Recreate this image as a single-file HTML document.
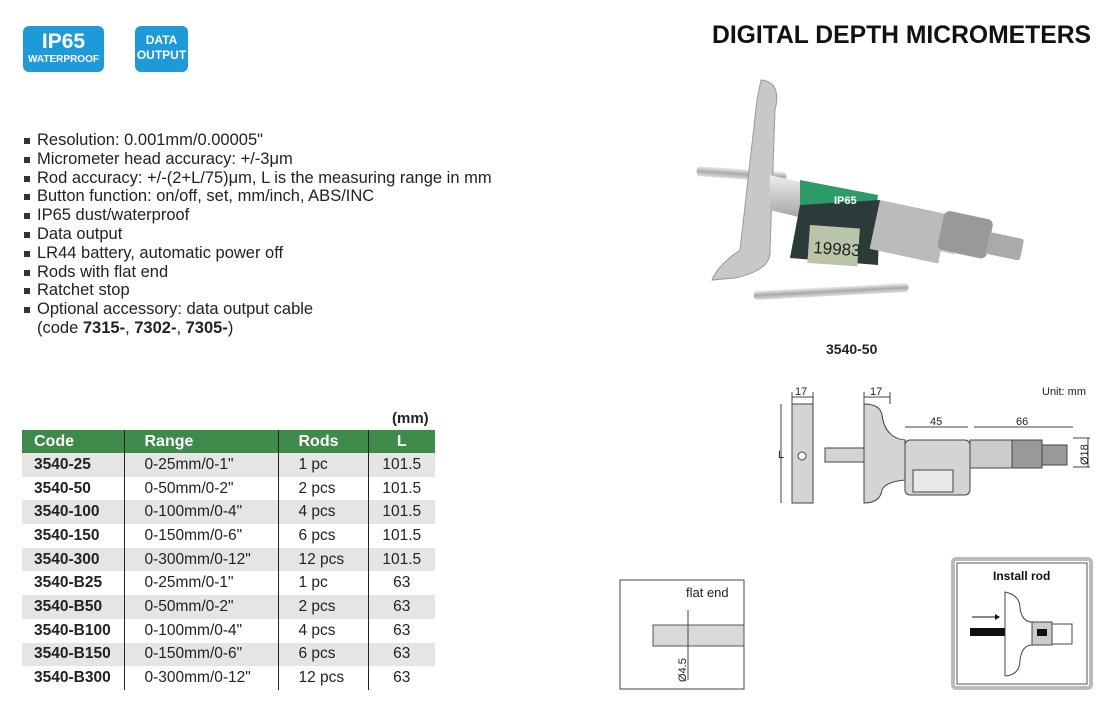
<!DOCTYPE html>
<html><head><meta charset="utf-8"><style>
body{margin:0;width:1115px;height:723px;background:#fff;position:relative;overflow:hidden;font-family:"Liberation Sans",Arial,sans-serif;color:#222}
.abs{position:absolute}
.badge{position:absolute;background:#1f9ad8;border-radius:6px;color:#fff;font-weight:bold;text-align:center}
ul{position:absolute;left:22px;top:131px;margin:0;padding:0;list-style:none;font-size:16.5px;line-height:18.8px}
ul li{padding-left:15px;position:relative}
ul li:before{content:"";position:absolute;left:2px;top:7px;width:6px;height:6px;background:#333}
table{position:absolute;left:22px;top:430px;border-collapse:collapse;font-size:15.5px;table-layout:fixed;width:413px}
td{height:23.7px;padding:0 0 0 12px;line-height:20px;overflow:hidden;white-space:nowrap}
tr.h td{background:#3d8a4b;color:#fff;font-weight:bold;font-size:16px;height:23px}
tr.g td{background:#e5e5e5}
td.c1{font-weight:bold;border-right:1.5px solid #222}
td.c2{border-right:1.5px solid #222;padding-left:20px}
td.c3{border-right:1.5px solid #222;padding-left:20px}
td.c4{text-align:center;padding:0}
</style></head><body>
<div class="badge" style="left:23px;top:26px;width:81px;height:46px"><div style="font-size:21px;line-height:24px;margin-top:4px">IP65</div><div style="font-size:10px;line-height:12px">WATERPROOF</div></div>
<div class="badge" style="left:135px;top:26px;width:53px;height:46px;font-size:12px;line-height:15px;padding-top:7px;box-sizing:border-box">DATA<br>OUTPUT</div>
<div class="abs" style="right:24px;top:22px;font-size:24.7px;font-weight:bold;color:#111">DIGITAL DEPTH MICROMETERS</div>
<ul>
<li>Resolution: 0.001mm/0.00005"</li>
<li>Micrometer head accuracy: +/-3μm</li>
<li>Rod accuracy: +/-(2+L/75)μm, L is the measuring range in mm</li>
<li>Button function: on/off, set, mm/inch, ABS/INC</li>
<li>IP65 dust/waterproof</li>
<li>Data output</li>
<li>LR44 battery, automatic power off</li>
<li>Rods with flat end</li>
<li>Ratchet stop</li>
<li>Optional accessory: data output cable<br>(code <b>7315-</b>, <b>7302-</b>, <b>7305-</b>)</li>
</ul>
<div class="abs" style="left:392px;top:410px;font-size:15px;font-weight:bold">(mm)</div>
<table>
<colgroup><col style="width:102px"><col style="width:154px"><col style="width:90px"><col style="width:67px"></colgroup>
<tr class="h"><td class="c1">Code</td><td class="c2">Range</td><td class="c3">Rods</td><td class="c4">L</td></tr>
<tr class="g"><td class="c1">3540-25</td><td class="c2">0-25mm/0-1"</td><td class="c3">1 pc</td><td class="c4">101.5</td></tr>
<tr><td class="c1">3540-50</td><td class="c2">0-50mm/0-2"</td><td class="c3">2 pcs</td><td class="c4">101.5</td></tr>
<tr class="g"><td class="c1">3540-100</td><td class="c2">0-100mm/0-4"</td><td class="c3">4 pcs</td><td class="c4">101.5</td></tr>
<tr><td class="c1">3540-150</td><td class="c2">0-150mm/0-6"</td><td class="c3">6 pcs</td><td class="c4">101.5</td></tr>
<tr class="g"><td class="c1">3540-300</td><td class="c2">0-300mm/0-12"</td><td class="c3">12 pcs</td><td class="c4">101.5</td></tr>
<tr><td class="c1">3540-B25</td><td class="c2">0-25mm/0-1"</td><td class="c3">1 pc</td><td class="c4">63</td></tr>
<tr class="g"><td class="c1">3540-B50</td><td class="c2">0-50mm/0-2"</td><td class="c3">2 pcs</td><td class="c4">63</td></tr>
<tr><td class="c1">3540-B100</td><td class="c2">0-100mm/0-4"</td><td class="c3">4 pcs</td><td class="c4">63</td></tr>
<tr class="g"><td class="c1">3540-B150</td><td class="c2">0-150mm/0-6"</td><td class="c3">6 pcs</td><td class="c4">63</td></tr>
<tr><td class="c1">3540-B300</td><td class="c2">0-300mm/0-12"</td><td class="c3">12 pcs</td><td class="c4">63</td></tr>
</table>

<svg class="abs" style="left:0;top:0" width="1115" height="723">
<defs><linearGradient id="m" x1="0" y1="0" x2="0" y2="1"><stop offset="0" stop-color="#eee"/><stop offset=".5" stop-color="#aaa"/><stop offset="1" stop-color="#ddd"/></linearGradient></defs>
<g>
<rect x="697" y="166" width="90" height="10" rx="4" fill="url(#m)" transform="rotate(4 697 166)"/>
<path d="M761 80 Q782 82 775 110 L770 250 Q772 270 735 278 L712 280 Q718 265 740 250 L757 100 Z" fill="#c8c8c8" stroke="#999"/>
<path d="M770 175 L960 220 L955 255 L770 210 Z" fill="url(#m)"/>
<path d="M800 180 L878 195 L870 250 L800 238 Z" fill="#2d9a6a"/>
<path d="M800 205 L880 200 L878 265 L790 258 Z" fill="#2c3a3a"/>
<rect x="810" y="225" width="50" height="38" fill="#b9c4a9" transform="rotate(4 810 225)"/>
<text x="813" y="253" font-size="17" fill="#222" transform="rotate(4 813 253)">19983</text>
<text x="834" y="204" font-size="11" font-weight="bold" fill="#fff">IP65</text>
<rect x="880" y="200" width="70" height="50" fill="#bbb" transform="rotate(12 880 200)"/>
<rect x="945" y="210" width="50" height="40" rx="6" fill="#999" transform="rotate(12 945 210)"/>
<rect x="990" y="232" width="35" height="22" rx="3" fill="#aaa" transform="rotate(12 990 232)"/>
<rect x="754" y="291" width="155" height="9" rx="4" fill="url(#m)" transform="rotate(-3 754 300)"/>
</g>
<text x="826" y="354" font-size="14" font-weight="bold" fill="#222">3540-50</text>
<g stroke="#444" fill="none" stroke-width="1">
<rect x="792" y="404" width="21" height="99" fill="#d4d4d4"/>
<circle cx="802" cy="456" r="4" fill="#fff"/>
<line x1="781" y1="404" x2="781" y2="503"/>
<line x1="792" y1="392" x2="792" y2="404"/><line x1="813" y1="392" x2="813" y2="404"/><line x1="792" y1="397" x2="813" y2="397"/>
<line x1="864" y1="392" x2="864" y2="404"/><line x1="890" y1="392" x2="890" y2="404"/><line x1="864" y1="397" x2="890" y2="397"/>
<rect x="825" y="448" width="40" height="14" fill="#d4d4d4"/>
<path d="M864 404 Q880 404 882 415 Q885 438 905 440 L905 480 Q885 482 882 490 Q880 503 864 503 Z" fill="#d4d4d4"/>
<rect x="905" y="440" width="65" height="55" rx="5" fill="#d4d4d4"/>
<rect x="913" y="470" width="40" height="22" fill="#e8e8e8"/>
<rect x="970" y="440" width="60" height="28" fill="#ccc"/>
<rect x="1012" y="440" width="30" height="28" fill="#999"/>
<rect x="1042" y="445" width="25" height="20" fill="#999"/>
<line x1="905" y1="427" x2="968" y2="427"/><line x1="974" y1="427" x2="1073" y2="427"/>
<line x1="1073" y1="438" x2="1090" y2="438"/><line x1="1073" y1="467" x2="1090" y2="467"/><line x1="1088" y1="438" x2="1088" y2="467"/>
</g>
<g font-size="11" fill="#222">
<text x="795" y="395">17</text><text x="870" y="395">17</text>
<text x="930" y="425">45</text><text x="1016" y="425">66</text>
<text x="1042" y="395">Unit: mm</text>
<text x="778" y="458">L</text>
<text transform="translate(1088,465) rotate(-90)">Ø18</text>
</g>
<rect x="620" y="580" width="124" height="109" fill="none" stroke="#444"/>
<rect x="653" y="625" width="91" height="21" fill="#d9d9d9" stroke="#555"/>
<line x1="688" y1="610" x2="688" y2="680" stroke="#444"/>
<text x="686" y="597" font-size="13" fill="#222">flat end</text>
<text transform="translate(686,682) rotate(-90)" font-size="11" fill="#222">Ø4.5</text>
<rect x="953" y="559" width="138" height="129" rx="3" fill="#fff" stroke="#bbb" stroke-width="4"/>
<rect x="957" y="563" width="130" height="121" fill="#fff" stroke="#555"/>
<text x="993" y="580" font-size="12" font-weight="bold" fill="#111">Install rod</text>
<path d="M1005 592 Q1020 595 1020 608 Q1022 622 1032 622 L1032 645 Q1022 645 1020 660 Q1020 675 1005 676 Z" fill="#fff" stroke="#444"/>
<rect x="1032" y="622" width="20" height="23" fill="#ccc" stroke="#444"/>
<rect x="1052" y="624" width="20" height="20" fill="#fff" stroke="#444"/>
<rect x="970" y="628" width="35" height="8" fill="#111"/>
<rect x="1037" y="629" width="10" height="7" fill="#111"/>
<line x1="972" y1="617" x2="995" y2="617" stroke="#111"/><path d="M995 614 L1000 617 L995 620 Z" fill="#111"/>
</svg>
</body></html>
